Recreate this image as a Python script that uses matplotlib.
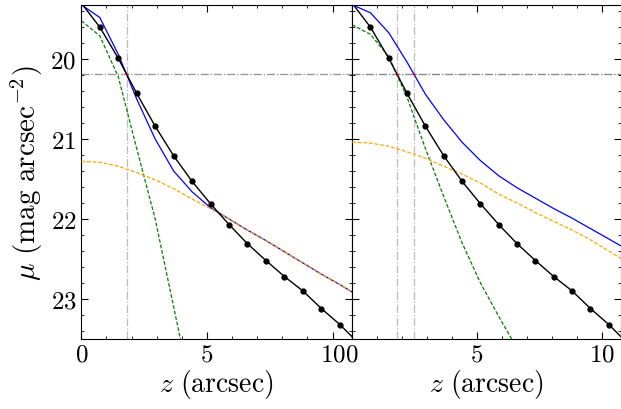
import numpy as np
import matplotlib
matplotlib.use('Agg')
import matplotlib.pyplot as plt
from matplotlib.ticker import MultipleLocator

plt.rcParams['font.family'] = 'serif'
plt.rcParams['font.serif'] = ['cmr10']
plt.rcParams['mathtext.fontset'] = 'cm'
plt.rcParams['axes.formatter.use_mathtext'] = True

# radial grid shared by data and models (arcsec)
z = [0.0, 0.735, 1.47, 2.205, 2.94, 3.675, 4.41, 5.145, 5.88, 6.615,
     7.35, 8.085, 8.82, 9.555, 10.29, 11.025]

# observed profile (same in both panels)
mu_obs = [19.30, 19.60, 19.99, 20.43, 20.84, 21.21, 21.53, 21.81, 22.07,
          22.31, 22.52, 22.72, 22.90, 23.12, 23.32, 23.55]

# left model
left_total = [19.32, 19.48, 19.94, 20.50, 21.00, 21.40, 21.66, 21.86, 22.00,
              22.14, 22.27, 22.41, 22.55, 22.69, 22.82, 22.96]
left_bulge = [19.52, 19.71, 20.22, 21.12, 22.00, 23.10, 24.20]
left_disk = [21.28, 21.29, 21.34, 21.42, 21.51, 21.62, 21.75, 21.87, 22.00,
             22.14, 22.27, 22.41, 22.55, 22.69, 22.82, 22.96]

# right model
right_total = [19.32, 19.42, 19.67, 20.04, 20.44, 20.76, 21.04, 21.27, 21.46,
               21.61, 21.74, 21.87, 21.99, 22.12, 22.25, 22.38]
right_bulge = [19.57, 19.69, 19.97, 20.48, 21.12, 21.72, 22.30, 22.80, 23.22, 23.62]
right_disk = [21.04, 21.05, 21.09, 21.16, 21.24, 21.34, 21.44, 21.55, 21.69,
              21.80, 21.92, 22.03, 22.14, 22.26, 22.40, 22.54]

mu_ref = 20.19
z_left = [1.81]
z_right = [1.81, 2.49]

fig = plt.figure(figsize=(6.21, 4.10), dpi=100)
ax1 = fig.add_axes([0.131, 0.171, 0.436, 0.814])
ax2 = fig.add_axes([0.567, 0.171, 0.433, 0.814], sharey=ax1)


def draw(ax, total, bulge, disk, zcuts):
    ax.axhline(mu_ref, color='gray', lw=0.9, ls='-.', alpha=0.6, zorder=1)
    for zc in zcuts:
        ax.axvline(zc, color='#bbbbbb', lw=0.9, ls='-.', zorder=1)
        ax.axhline(mu_ref, color='gray', lw=0.9, ls='-.', alpha=0.5, zorder=1)
    ax.plot(z[:len(bulge)], bulge, color='green', lw=0.9, ls=(0, (3, 1.5)), zorder=2)
    ax.plot(z, total, color='blue', lw=0.9, zorder=3)
    ax.plot(z, disk, color='orange', lw=0.9, ls=(0, (3, 1.5)), zorder=4)
    ax.plot(z, mu_obs, color='black', lw=1.0, marker='o', ms=3.5,
            markevery=slice(1, None), zorder=5)
    for zc in zcuts:
        ax.plot(zc, mu_ref, 's', color='red', ms=2, mec='none', zorder=6)
    ax.set_xlim(0, 10.78)
    ax.set_ylim(23.5, 19.325)
    ax.xaxis.set_major_locator(MultipleLocator(5))
    ax.xaxis.set_minor_locator(MultipleLocator(1))
    ax.yaxis.set_major_locator(MultipleLocator(1))
    ax.yaxis.set_minor_locator(MultipleLocator(0.2))
    ax.tick_params(which='both', direction='in', top=True, right=True, labelsize=18)
    ax.tick_params(which='major', length=5)
    ax.tick_params(which='minor', length=2.5)
    ax.set_xlabel(r'$z\ (\mathrm{arcsec})$', fontsize=20, labelpad=1)


draw(ax1, left_total, left_bulge, left_disk, z_left)
draw(ax2, right_total, right_bulge, right_disk, z_right)
ax2.tick_params(labelleft=False)
ax1.set_ylabel(r'$\mu\ (\mathrm{mag\ arcsec^{-2}})$', fontsize=21, labelpad=4)

fig.savefig('out.png', dpi=100)
